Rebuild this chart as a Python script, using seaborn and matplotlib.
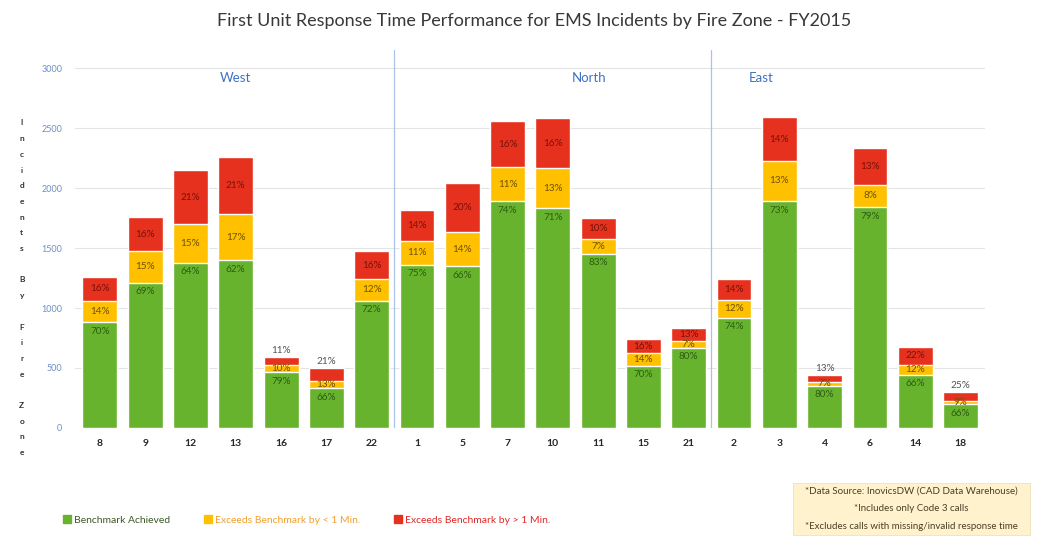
import numpy as np
import pandas as pd
import matplotlib
matplotlib.use("Agg")
import matplotlib.pyplot as plt
import seaborn as sns
from matplotlib.patches import Patch, Rectangle

# Fire zones in chart order (West / North / East)
zones = ['8', '9', '12', '13', '16', '17', '22',
         '1', '5', '7', '10', '11', '15', '21',
         '2', '3', '4', '6', '14', '18']
# total EMS incidents per zone
totals = [1260, 1755, 2150, 2255, 590, 500, 1475,
          1815, 2040, 2555, 2580, 1750, 740, 835,
          1240, 2590, 440, 2330, 675, 300]
# percent of incidents in each category
pct_ok = [70, 69, 64, 62, 79, 66, 72,
          75, 66, 74, 71, 83, 70, 80,
          74, 73, 80, 79, 66, 66]
pct_under = [14, 15, 15, 17, 10, 13, 12,
             11, 14, 11, 13, 7, 14, 7,
             12, 13, 7, 8, 12, 9]
pct_over = [16, 16, 21, 21, 11, 21, 16,
            14, 20, 16, 16, 10, 16, 13,
            14, 14, 13, 13, 22, 25]
regions = ['West', 'North', 'East']
region_x = [3.0, 10.8, 14.6]

GREEN = '#68B32E'
YELLOW = '#FFC000'
RED = '#E6311F'

df = pd.DataFrame({'zone': zones, 'total': totals,
                   'ok': pct_ok, 'under': pct_under, 'over': pct_over})
df['h_ok'] = df['total'] * df['ok'] / 100
df['h_under'] = df['total'] * (df['ok'] + df['under']) / 100

sns.set_style("white")
plt.rcParams['font.family'] = ['Lato', 'DejaVu Sans']

fig = plt.figure(figsize=(10.37, 5.39), dpi=100)
ax = fig.add_axes([0.0723, 0.206, 0.878, 0.701])

# stacked bars drawn as overlapping layers
sns.barplot(data=df, x='zone', y='total', order=zones, color=RED,
            saturation=1, width=0.77, ax=ax)
sns.barplot(data=df, x='zone', y='h_under', order=zones, color=YELLOW,
            saturation=1, width=0.77, ax=ax)
sns.barplot(data=df, x='zone', y='h_ok', order=zones, color=GREEN,
            saturation=1, width=0.77, ax=ax)

ax.set_xlim(-0.55, 19.55)
ax.set_ylim(0, 3150)
ax.set_yticks(range(0, 3001, 500))
ax.yaxis.grid(True, color='#E4E4E4', linewidth=0.8)
ax.set_axisbelow(True)
for s in ax.spines.values():
    s.set_visible(False)
ax.tick_params(axis='y', length=0, labelsize=6.5, labelcolor='#6F8FC8', pad=9)
ax.tick_params(axis='x', length=0, labelsize=7.5, pad=8)
for t in ax.get_xticklabels():
    t.set_fontweight('bold')
ax.set_xlabel('')
ax.set_ylabel('')

# region separators and names
for xs in [6.5, 13.5]:
    ax.axvline(xs, color='#A9C2E6', linewidth=0.9)
for name, xr in zip(regions, region_x):
    ax.text(xr, 2915, name, ha='center', va='center', fontsize=9.5, color='#3E72C4')

# percentage labels
fs = 7.2
for i, r in df.iterrows():
    ax.text(i, r['h_ok'] - 75, f"{r['ok']}%", ha='center', va='center',
            fontsize=fs, color='#2C5E14')
    ax.text(i, (r['h_ok'] + r['h_under']) / 2, f"{r['under']}%", ha='center',
            va='center', fontsize=fs, color='#6E5200')
    if r['total'] < 650:
        ax.text(i, r['total'] + 55, f"{r['over']}%", ha='center', va='center',
                fontsize=fs, color='#555555')
    else:
        ax.text(i, (r['h_under'] + r['total']) / 2, f"{r['over']}%", ha='center',
                va='center', fontsize=fs, color='#7A1208')

fig.suptitle('First Unit Response Time Performance for EMS Incidents by Fire Zone - FY2015',
             x=0.515, y=0.975, fontsize=13, color='#383838')

# stacked vertical axis title
ylab = '\n'.join(list('Incidents') + [' '] + list('By') + [' '] + list('Fire') + [' '] + list('Zone'))
fig.text(0.021, 0.466, ylab, ha='center', va='center', fontsize=6,
         fontweight='bold', color='#333333', linespacing=2.45)

# legend
handles = [Patch(color=GREEN), Patch(color=YELLOW), Patch(color=RED)]
labels = ['Benchmark Achieved', 'Exceeds Benchmark by < 1 Min.', 'Exceeds Benchmark by > 1 Min.']
fig.legend(handles, labels, loc='center left', bbox_to_anchor=(0.052, 0.035),
           ncol=3, frameon=False, fontsize=7.5, handlelength=0.7, handleheight=0.7,
           handletextpad=0.3, columnspacing=3.3,
           labelcolor=['#3E5A2A', '#F0A030', '#E02828'])

# notes box
fig.patches.append(Rectangle((0.765, 0.007), 0.228, 0.097, transform=fig.transFigure,
                             facecolor='#FFF2CC', edgecolor='#EFE3BC', linewidth=0.6))
notes = ['*Data Source: InovicsDW (CAD Data Warehouse)',
         '*Includes only Code 3 calls',
         '*Excludes calls with missing/invalid response time']
for k, line in enumerate(notes):
    fig.text(0.879, 0.089 - k * 0.033, line, ha='center', va='center',
             fontsize=7.0, color='#4A4028')

fig.savefig('out.png', dpi=100)
